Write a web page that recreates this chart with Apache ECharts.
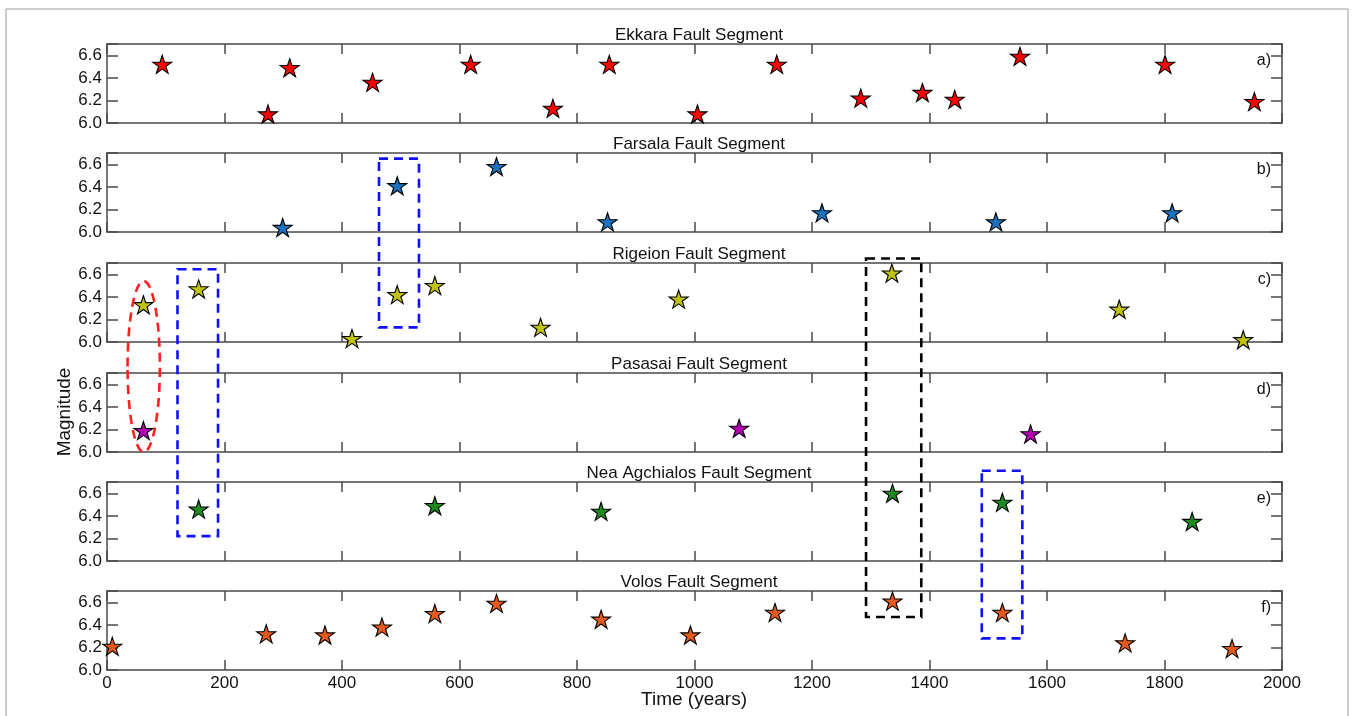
<!DOCTYPE html>
<html>
<head>
<meta charset="utf-8">
<script src="https://cdn.jsdelivr.net/npm/echarts@6/dist/echarts.min.js"></script>
<style>html,body{margin:0;padding:0;background:#fff;}#c{width:1354px;height:716px;}</style>
</head>
<body>
<div id="c"></div>
<script>
// ---- data ----
const panelTitles = ['Ekkara Fault Segment','Farsala Fault Segment','Rigeion Fault Segment','Pasasai Fault Segment','Nea Agchialos Fault Segment','Volos Fault Segment'];
const panelLetters = ['a)','b)','c)','d)','e)','f)'];
const starColors = ['#ff0000','#1b72be','#c2c212','#b400b4','#1f8a1f','#e35a1c'];
const ekkara = [[94,6.52],[274,6.08],[311,6.49],[452,6.36],[619,6.52],[759,6.13],[855,6.52],[1005,6.08],[1140,6.52],[1283,6.22],[1388,6.27],[1443,6.21],[1554,6.59],[1801,6.52],[1953,6.19]];
const farsala = [[299,6.04],[494,6.41],[663,6.58],[852,6.09],[1217,6.17],[1513,6.09],[1813,6.17]];
const rigeion = [[62,6.33],[156,6.47],[417,6.03],[494,6.42],[558,6.50],[738,6.13],[973,6.38],[1336,6.61],[1723,6.29],[1934,6.02]];
const pasasai = [[62,6.19],[1076,6.21],[1572,6.16]];
const neaAgchialos = [[156,6.46],[558,6.49],[841,6.44],[1337,6.60],[1524,6.52],[1847,6.35]];
const volos = [[9,6.21],[271,6.32],[371,6.31],[468,6.38],[558,6.50],[663,6.59],[841,6.45],[993,6.31],[1137,6.51],[1337,6.61],[1524,6.51],[1733,6.24],[1915,6.19]];
const panelData = [ekkara, farsala, rigeion, pasasai, neaAgchialos, volos];
const xTicks = [0,200,400,600,800,1000,1200,1400,1600,1800,2000];
const yTicks = [6.0,6.2,6.4,6.6];
// annotation outlines in data coordinates: x range, top panel + magnitude, bottom panel + magnitude
const annotations = [
  {type:'rect', color:'#1010ff', x0:463, x1:531, topPanel:1, topMag:6.65, botPanel:2, botMag:6.13},
  {type:'ellipse', color:'#ff2020', x0:35, x1:90, topPanel:2, topMag:6.54, botPanel:3, botMag:6.0},
  {type:'rect', color:'#1010ff', x0:120, x1:189, topPanel:2, topMag:6.645, botPanel:4, botMag:6.22},
  {type:'rect', color:'#000000', x0:1292, x1:1386, topPanel:2, topMag:6.74, botPanel:5, botMag:6.47},
  {type:'rect', color:'#1010ff', x0:1489, x1:1558, topPanel:4, topMag:6.80, botPanel:5, botMag:6.28}
];

// ---- layout ----
const gridTops = [44,153,263,373,482,591];
const gridH = 79, gridLeft = 107, gridRight = 72;
const FONT = '"Liberation Sans", Arial, Helvetica, sans-serif';
const axisCol = '#4a4a4a';
const starPath = 'path://M0,-10 L2.245,-3.09 L9.511,-3.09 L3.633,1.18 L5.878,8.09 L0,3.82 L-5.878,8.09 L-3.633,1.18 L-9.511,-3.09 L-2.245,-3.09 Z';

const grids = [], xAxes = [], yAxes = [], series = [], titles = [];
const N = panelTitles.length;
for (let i = 0; i < N; i++) {
  grids.push({left: gridLeft, right: gridRight, top: gridTops[i], height: gridH, containLabel: false});
}
const baseX = (i, pos, labels) => ({
  type:'value', gridIndex:i, position:pos, min:xTicks[0], max:xTicks[xTicks.length-1], interval:200,
  axisLine:{show:true, onZero:false, lineStyle:{color:axisCol, width:1.5}},
  axisTick:{show:true, inside:true, length:10, lineStyle:{color:axisCol, width:1.5}},
  axisLabel:{show:labels, margin:5, color:'#111', fontSize:17, fontFamily:FONT,
    formatter: v => xTicks.indexOf(v) >= 0 ? String(v) : ''},
  splitLine:{show:false}
});
const baseY = (i, pos, labels) => ({
  type:'value', gridIndex:i, position:pos, min:6.0, max:6.7, interval:0.2,
  axisLine:{show:true, onZero:false, lineStyle:{color:axisCol, width:1.5}},
  axisTick:{show:true, inside:true, length:11, lineStyle:{color:axisCol, width:1.5}},
  axisLabel:{show:labels, margin:5, color:'#111', fontSize:17, fontFamily:FONT,
    formatter: v => yTicks.some(t => Math.abs(t - v) < 1e-6) ? v.toFixed(1) : ''},
  splitLine:{show:false}
});
for (let i = 0; i < N; i++) xAxes.push(baseX(i, 'bottom', i === N-1));
for (let i = 0; i < N; i++) xAxes.push(baseX(i, 'top', false));
for (let i = 0; i < N; i++) yAxes.push(baseY(i, 'left', true));
for (let i = 0; i < N; i++) yAxes.push(baseY(i, 'right', false));
for (let i = 0; i < N; i++) {
  series.push({
    type:'scatter', xAxisIndex:i, yAxisIndex:i, data:panelData[i],
    symbol:starPath, symbolSize:[19,18],
    itemStyle:{color:starColors[i], borderColor:'#000', borderWidth:1.1, opacity:1},
    z:5
  });
  titles.push({text:panelTitles[i], left:694, top:gridTops[i]-22, textAlign:'center',
    textStyle:{fontSize:17, fontWeight:'normal', color:'#111', fontFamily:FONT}});
  titles.push({text:panelLetters[i], right:78, top:gridTops[i]+4,
    textStyle:{fontSize:16, fontWeight:'normal', color:'#111', fontFamily:FONT}});
}

const chart = echarts.init(document.getElementById('c'), null, {renderer:'canvas'});
chart.setOption({
  animation:false,
  backgroundColor:'#fff',
  title:titles,
  grid:grids, xAxis:xAxes, yAxis:yAxes, series:series
});

// ---- annotations and frame, converted from data space ----
const graphics = [
  {type:'rect', shape:{x:6, y:9, width:1342, height:720}, style:{fill:'none', stroke:'#9a9a9a', lineWidth:1}, z:0, silent:true},
  {type:'text', x:65, y:412, rotation:Math.PI/2, style:{text:'Magnitude', fontSize:19, fontFamily:FONT, fill:'#111', textAlign:'center', textVerticalAlign:'middle'}},
  {type:'text', x:694, y:700, style:{text:'Time (years)', fontSize:19, fontFamily:FONT, fill:'#111', textAlign:'center', textVerticalAlign:'middle'}}
];
annotations.forEach(a => {
  const p0 = chart.convertToPixel({xAxisIndex:a.topPanel, yAxisIndex:a.topPanel}, [a.x0, a.topMag]);
  const p1 = chart.convertToPixel({xAxisIndex:a.botPanel, yAxisIndex:a.botPanel}, [a.x1, a.botMag]);
  const style = {fill:'none', stroke:a.color, lineWidth:2.6, lineDash:[9,6]};
  if (a.type === 'rect') {
    graphics.push({type:'rect', shape:{x:p0[0], y:p0[1], width:p1[0]-p0[0], height:p1[1]-p0[1]}, style:style, z:10, silent:true});
  } else {
    graphics.push({type:'ellipse', shape:{cx:(p0[0]+p1[0])/2, cy:(p0[1]+p1[1])/2, rx:(p1[0]-p0[0])/2, ry:(p1[1]-p0[1])/2}, style:style, z:10, silent:true});
  }
});
chart.setOption({graphic:graphics});
</script>
</body>
</html>
